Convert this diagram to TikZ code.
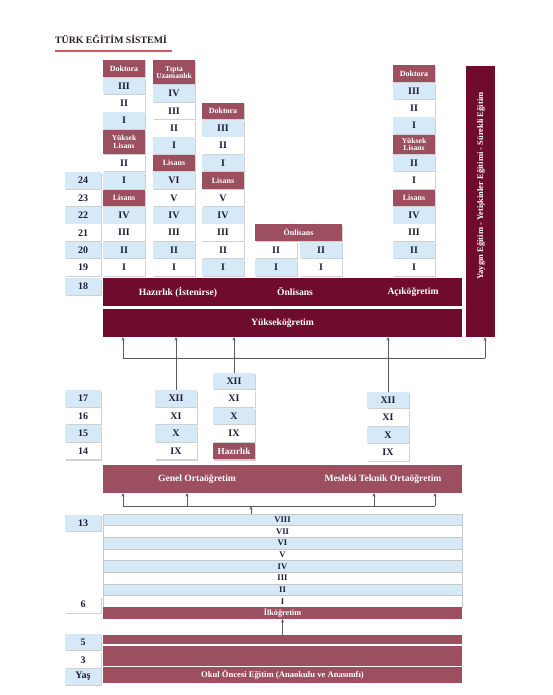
\documentclass[tikz,border=0pt]{standalone}
\usepackage{fontspec}
\setmainfont{Liberation Serif}
\usetikzlibrary{shadows,arrows.meta}
\definecolor{lb}{RGB}{214,233,246}
\definecolor{mar}{RGB}{155,79,95}
\definecolor{dmar}{RGB}{111,12,46}
\definecolor{ink}{RGB}{28,28,58}
\definecolor{ttl}{RGB}{45,25,45}
\definecolor{uline}{RGB}{210,90,95}
\definecolor{arrc}{RGB}{90,90,90}
\tikzset{
 cell/.style={minimum width=42, minimum height=16.6, inner sep=0, outer sep=0,
   font=\bfseries\fontsize{10}{10}\selectfont, text=ink,
   drop shadow={shadow xshift=1.3pt, shadow yshift=-1.3pt, opacity=.3, fill=black!60}},
 bl/.style={cell, fill=lb},
 wh/.style={cell, fill=white},
 hd/.style={cell, fill=mar, text=white, align=center, font=\bfseries\fontsize{8}{7.6}\selectfont},
 hdtwo/.style={hd, font=\bfseries\fontsize{7.6}{7.6}\selectfont},
 agebl/.style={bl, minimum width=36},
 agewh/.style={wh, minimum width=36},
 band/.style={minimum width=359, inner sep=0, outer sep=0},
 bandtxt/.style={text=white, font=\bfseries\fontsize{9.6}{10}\selectfont, inner sep=0},
 erow/.style={band, minimum height=11.6, draw=black!22, line width=0.4pt,
   font=\bfseries\fontsize{8.6}{9}\selectfont, text=ink,
   drop shadow={shadow xshift=1.3pt, shadow yshift=-1.3pt, opacity=.3, fill=black!60}},
 ln/.style={draw=arrc, line width=0.8pt},
 arr/.style={draw=arrc, line width=0.8pt, -{Stealth[length=3.5pt,width=3pt]}},
}
\begin{document}
\begin{tikzpicture}[x=1pt,y=-1pt]
\useasboundingbox (0,0) rectangle (552,695);
\fill[white] (0,0) rectangle (552,695);
% title
\node[anchor=west, inner sep=0, text=ttl, font=\bfseries\fontsize{9.8}{10}\selectfont] (title) at (55,39) {TÜRK EĞİTİM SİSTEMİ};
\coordinate (u1) at (55,51); \coordinate (u2) at (172,51);
\draw[uline, line width=1.1pt] (u1) -- (u2);

% column 1
\node[hd] (a12) at (124,68.5) {Doktora};
\node[bl] (a11) at (124,85.9) {III};
\node[wh] (a10) at (124,103.3) {II};
\node[bl] (a9) at (124,120.7) {I};
\node[hdtwo, minimum height=24.2] (a8) at (124,141.9) {Yüksek\\Lisans};
\node[wh] (a7) at (124,163.1) {II};
\node[bl] (a6) at (124,180.5) {I};
\node[hd] (a5) at (124,197.9) {Lisans};
\node[bl] (a4) at (124,215.3) {IV};
\node[wh] (a3) at (124,232.7) {III};
\node[bl] (a2) at (124,250.1) {II};
\node[wh] (a1) at (124,267.5) {I};

% column 2
\node[hdtwo, minimum height=24] (b12) at (174,72.4) {Tıpta\\Uzamanlık};
\node[bl] (b11) at (174,93.5) {IV};
\node[wh] (b10) at (174,110.9) {III};
\node[wh] (b9) at (174,128.3) {II};
\node[bl] (b8) at (174,145.7) {I};
\node[hd] (b7) at (174,163.1) {Lisans};
\node[bl] (b6) at (174,180.5) {VI};
\node[wh] (b5) at (174,197.9) {V};
\node[bl] (b4) at (174,215.3) {IV};
\node[wh] (b3) at (174,232.7) {III};
\node[bl] (b2) at (174,250.1) {II};
\node[wh] (b1) at (174,267.5) {I};

% column 3
\node[hd] (c10) at (223,110.9) {Doktora};
\node[bl] (c9) at (223,128.3) {III};
\node[wh] (c8) at (223,145.7) {II};
\node[bl] (c7) at (223,163.1) {I};
\node[hd] (c6) at (223,180.5) {Lisans};
\node[wh] (c5) at (223,197.9) {V};
\node[bl] (c4) at (223,215.3) {IV};
\node[wh] (c3) at (223,232.7) {III};
\node[wh] (c2) at (223,250.1) {II};
\node[bl] (c1) at (223,267.5) {I};

% onlisans
\node[hd, minimum width=87] (o3) at (298.5,232.7) {Önlisans};
\node[wh] (o2l) at (276,250.1) {II};
\node[bl] (o2r) at (321,250.1) {II};
\node[bl] (o1l) at (276,267.5) {I};
\node[wh] (o1r) at (321,267.5) {I};

% right column
\node[hd] (d12) at (414,73.5) {Doktora};
\node[bl] (d11) at (414,90.9) {III};
\node[wh] (d10) at (414,108.3) {II};
\node[bl] (d9) at (414,125.7) {I};
\node[hdtwo, minimum height=19.6] (d8) at (414,144.4) {Yüksek\\Lisans};
\node[bl] (d7) at (414,163.1) {II};
\node[wh] (d6) at (414,180.5) {I};
\node[hd] (d5) at (414,197.9) {Lisans};
\node[bl] (d4) at (414,215.3) {IV};
\node[wh] (d3) at (414,232.7) {III};
\node[bl] (d2) at (414,250.1) {II};
\node[wh] (d1) at (414,267.5) {I};

% ages upper
\node[agebl] (y24) at (83,180.5) {24};
\node[agewh] (y23) at (83,197.9) {23};
\node[agebl] (y22) at (83,215.3) {22};
\node[agewh] (y21) at (83,232.7) {21};
\node[agebl] (y20) at (83,250.1) {20};
\node[agewh] (y19) at (83,267.5) {19};
\node[agebl] (y18) at (83,286.5) {18};

% higher education bands
\node[band, fill=dmar, minimum height=28] (hb) at (282.5,292) {};
\node[bandtxt] (t1) at (178,292) {Hazırlık (İstenirse)};
\node[bandtxt] (t2) at (295,292) {Önlisans};
\node[bandtxt] (t3) at (413,292) {Açıköğretim};
\node[band, bandtxt, fill=dmar, minimum height=28] (yo) at (282.5,323) {Yükseköğretim};
\node[fill=dmar, minimum width=29, minimum height=271, inner sep=0] (yg) at (480.5,201.5) {};
\node[bandtxt, rotate=90, font=\bfseries\fontsize{8.5}{9}\selectfont] (ygt) at (481,186) {Yaygın Eğitim - Yetişkinler Eğitimi - Sürekli Eğitim};

% secondary
\node[agebl] (y17) at (83,398.5) {17};
\node[agewh] (y16) at (83,416) {16};
\node[agebl] (y15) at (83,433.5) {15};
\node[agewh] (y14) at (83,451) {14};

\node[bl] (g12) at (176,398.5) {XII};
\node[wh] (g11) at (176,416) {XI};
\node[bl] (g10) at (176,433.5) {X};
\node[wh] (g9) at (176,451) {IX};

\node[bl] (h12) at (234,381) {XII};
\node[wh] (h11) at (234,398.5) {XI};
\node[bl] (h10) at (234,416) {X};
\node[wh] (h9) at (234,433.5) {IX};
\node[hd, font=\bfseries\fontsize{9.2}{9}\selectfont] (hz) at (234,451) {Hazırlık};

\node[bl] (m12) at (388,400) {XII};
\node[wh] (m11) at (388,417.5) {XI};
\node[bl] (m10) at (388,435) {X};
\node[wh] (m9) at (388,452.5) {IX};

\node[band, fill=mar, minimum height=28] (or) at (282.5,479) {};
\node[bandtxt] (t4) at (197,479) {Genel Ortaöğretim};
\node[bandtxt] (t5) at (383,479) {Mesleki Teknik Ortaöğretim};

% connectors to higher education
\coordinate (hl) at (123,358);
\coordinate (hr) at (485,358);
\draw[ln] (hl) -- (hr);
\draw[arr] (hl) -- (hl |- yo.south);
\draw[arr] (hr) -- (hr |- yg.south);
\draw[arr] (g12.north) -- (g12.north |- yo.south);
\draw[arr] (h12.north) -- (h12.north |- yo.south);
\draw[arr] (m12.north) -- (m12.north |- yo.south);

% elementary
\node[erow, fill=lb] (e8) at (282.5,519.8) {VIII};
\node[erow, fill=white] (e7) at (282.5,531.4) {VII};
\node[erow, fill=lb] (e6) at (282.5,543.1) {VI};
\node[erow, fill=white] (e5) at (282.5,554.7) {V};
\node[erow, fill=lb] (e4) at (282.5,566.3) {IV};
\node[erow, fill=white] (e3) at (282.5,577.9) {III};
\node[erow, fill=lb] (e2) at (282.5,589.6) {II};
\node[erow, fill=white] (e1) at (282.5,601.2) {I};
\node[agebl, minimum height=16] (y13) at (83,523) {13};
\node[agewh] (y6) at (83,604.5) {6};
\node[band, fill=mar, minimum height=12, text=white, font=\bfseries\fontsize{8.2}{8}\selectfont] (ilk) at (282.5,613) {İlköğretim};

% connectors to secondary
\coordinate (ll) at (123,506);
\coordinate (l2) at (187,506);
\coordinate (lc) at (251,506);
\coordinate (l3) at (374,506);
\coordinate (lr) at (435,506);
\draw[ln] (ll) -- (lr);
\draw[arr] (ll) -- (ll |- or.south);
\draw[arr] (l2) -- (l2 |- or.south);
\draw[arr] (l3) -- (l3 |- or.south);
\draw[arr] (lr) -- (lr |- or.south);
\draw[arr] (lc |- e8.north) -- (lc);

% preschool
\node[band, fill=mar, minimum height=9.3] (ok1) at (282.5,639.6) {};
\node[band, fill=mar, minimum height=20] (ok2) at (282.5,655.7) {};
\node[band, fill=mar, minimum height=16.6, text=white, font=\bfseries\fontsize{8.6}{9}\selectfont] (ok3) at (282.5,675) {Okul Öncesi Eğitim (Anaokulu ve Anasınıfı)};
\node[agebl, minimum height=16] (y5) at (83,642) {5};
\node[agewh, minimum height=16] (y3) at (83,660) {3};
\node[agebl, minimum height=16] (yas) at (83,676.5) {Yaş};
\draw[arr] (ok1.north) -- (ok1.north |- ilk.south);
\end{tikzpicture}
\end{document}
